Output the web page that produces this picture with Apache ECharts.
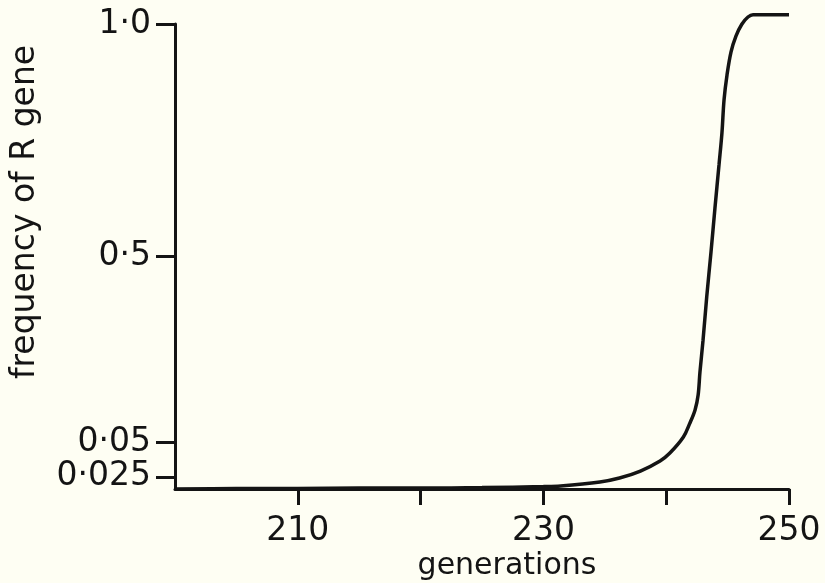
<!DOCTYPE html>
<html>
<head>
<meta charset="utf-8">
<script src="https://cdn.jsdelivr.net/npm/echarts@6/dist/echarts.min.js"></script>
<style>
html,body{margin:0;padding:0;background:#fefef3;}
#chart{width:825px;height:583px;}
</style>
</head>
<body>
<div id="chart"></div>
<script>
// ---- data ----
const generations = [200, 205, 210, 215, 220, 225, 230, 231.4, 234.6, 236.2, 237.9, 239.5, 240.3, 241.4, 241.9, 242.35, 242.6, 242.75, 243.0, 243.3, 243.65, 243.97, 244.3, 244.54, 244.71, 244.95, 245.28, 245.68, 246.17, 246.66, 247.07, 250];
const freqR = [0, 0.001, 0.001, 0.002, 0.002, 0.003, 0.005, 0.0062, 0.0145, 0.0227, 0.0292, 0.0364, 0.0421, 0.0622, 0.094, 0.128, 0.164, 0.220, 0.297, 0.402, 0.510, 0.604, 0.697, 0.766, 0.837, 0.890, 0.940, 0.974, 1.0, 1.015, 1.02, 1.02];

const xTickValues = [210, 220, 230, 240, 250];
const xLabelValues = [210, 230, 250];
const yTickValues = [0.025, 0.05, 0.5, 1.0];
const yTickLabels = ['0·025', '0·05', '0·5', '1·0'];

const xTitle = 'generations';
const yTitle = 'frequency of R gene';

// ---- the figure's (hand-drawn, piecewise) frequency scale ----
const scaleFreq = [0, 0.025, 0.05, 0.5, 1.0];
const scalePos  = [0, 0.026, 0.101, 0.5, 1.0];
function toAxis(f) {
  for (let i = 1; i < scaleFreq.length; i++) {
    if (f <= scaleFreq[i] || i === scaleFreq.length - 1) {
      const a = scaleFreq[i - 1], b = scaleFreq[i];
      return scalePos[i - 1] + (f - a) / (b - a) * (scalePos[i] - scalePos[i - 1]);
    }
  }
}
const yTickPos = yTickValues.map(toAxis);
function yLabelFor(v) {
  for (let i = 0; i < yTickPos.length; i++) {
    if (Math.abs(yTickPos[i] - v) < 1e-6) return yTickLabels[i];
  }
  return '';
}

const seriesData = generations.map((g, i) => [g, toAxis(freqR[i])]);

const FONT = 'DejaVu Sans';
const INK = '#141414';

const chart = echarts.init(document.getElementById('chart'), null, {renderer: 'canvas'});
chart.setOption({
  backgroundColor: '#fefef3',
  animation: false,
  grid: {left: 175, right: 36, top: 24, bottom: 94, outerBoundsMode: 'none', containLabel: false},
  xAxis: {
    type: 'value', min: 200, max: 250, interval: 10,
    axisLine: {lineStyle: {color: INK, width: 3}},
    axisTick: {show: true, inside: false, length: 16, lineStyle: {color: INK, width: 3}, customValues: xTickValues},
    axisLabel: {customValues: xLabelValues, margin: 26, color: INK, fontFamily: FONT, fontSize: 33},
    splitLine: {show: false}
  },
  yAxis: {
    type: 'value', min: 0, max: 1,
    axisLine: {show: true, lineStyle: {color: INK, width: 3}},
    axisTick: {show: true, inside: false, length: 19, lineStyle: {color: INK, width: 3}, customValues: yTickPos},
    axisLabel: {customValues: yTickPos, formatter: yLabelFor, margin: 24, color: INK, fontFamily: FONT, fontSize: 33},
    splitLine: {show: false}
  },
  graphic: [
    {type: 'text', x: 507, y: 566, style: {text: xTitle, fill: INK, font: '30px "DejaVu Sans"', textAlign: 'center', textVerticalAlign: 'middle'}},
    {type: 'text', x: 25, y: 212, rotation: Math.PI / 2, style: {text: yTitle, fill: INK, font: '33px "DejaVu Sans"', textAlign: 'center', textVerticalAlign: 'middle'}}
  ],
  series: [{
    type: 'line',
    data: seriesData,
    showSymbol: false,
    smooth: 0.35,
    clip: false,
    lineStyle: {color: INK, width: 3.5}
  }]
});
</script>
</body>
</html>
